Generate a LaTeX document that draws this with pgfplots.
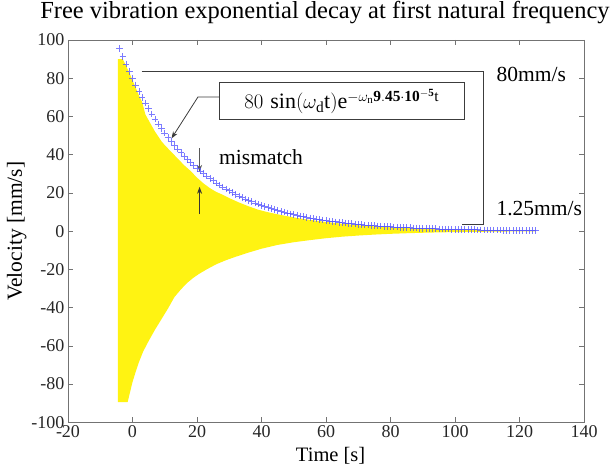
\documentclass[border=0pt]{standalone}
\usepackage{fontspec}
\setmainfont{Liberation Serif}
\usepackage{pgfplots}
\pgfplotsset{compat=1.18}
\usetikzlibrary{arrows.meta}
\definecolor{markblue}{RGB}{80,80,255}
\definecolor{anngray}{RGB}{60,60,60}

\begin{document}
\begin{tikzpicture}
\path[use as bounding box] (0,0) rectangle (614pt,470pt);
\begin{axis}[
  at={(68pt,47.7pt)}, anchor=south west,
  scale only axis, width=516pt, height=382.3pt,
  xmin=-20, xmax=140, ymin=-100, ymax=100,
  xtick={-20,0,20,40,60,80,100,120,140},
  xticklabels={-20,0,20,40,60,80,100,120,140},
  ytick={-100,-80,-60,-40,-20,0,20,40,60,80,100},
  yticklabels={-100,-80,-60,-40,-20,0,20,40,60,80,100},
  tick align=inside, major tick length=5pt,
  axis line style={draw=black!55, line width=0.8pt},
  every tick/.style={black!55, line width=0.6pt},
  tick label style={font=\rmfamily\fontsize{18}{21}\selectfont, text=black!85},
  title={Free vibration exponential decay at first natural frequency},
  title style={at={(0.498,1.055)}, anchor=center, font=\fontsize{24.5}{28}\selectfont},
  xlabel={Time [s]},
  xlabel style={at={(0.509,-0.088)}, anchor=center, font=\fontsize{20.5}{24}\selectfont},
  ylabel={Velocity [mm/s]},
  ylabel style={at={(-0.0994,0.5)}, anchor=center, font=\fontsize{21.5}{24}\selectfont},
  clip=false,
]
% yellow decaying oscillation (envelope-filled)
\addplot[fill=yellow!93!white, draw=none] coordinates {
(-4.5,90) (-3,90) (-2,86.5) (-1,83) (0,79) (1,75) (2,71) (3,67.5) (4,61) (5,58) (6,55) (7,52) (8,49.5) (9,47) (10,45) (12,41.5) (14,38) (16,34.5) (18,31.5) (20,28) (22,25) (24,22.5) (26,20.5) (28,19) (30,17.3) (33,15) (36,13) (39,11.2) (42,9.9) (45,8.8) (48,7.8) (51,6.9) (55,5.9) (60,4.8) (65,3.9) (70,3.1) (75,2.5) (80,2.0) (85,1.6) (90,1.2) (95,0.95) (100,0.75) (105,0.55) (110,0.4) (115,0.3) (120,0.2) (125,0.1)
(125,-0.1) (120,-0.15) (115,-0.2) (110,-0.3) (105,-0.4) (100,-0.5) (95,-0.65) (90,-0.85) (85,-1.1) (80,-1.4) (75,-1.8) (70,-2.3) (65,-2.9) (60,-3.7) (55,-4.7) (50,-5.8) (45,-7.2) (40,-9.2) (36,-11.2) (32,-13.4) (29,-15.2) (26,-17.3) (23,-20) (20.5,-22.5) (18.8,-24.5) (17,-27) (15,-30.5) (13,-34.5) (11,-40.5) (9,-46) (7,-51.5) (5,-57.5) (3.3,-63) (2,-68.5) (1,-73.5) (0,-79) (-0.8,-84.5) (-1.5,-89.4) (-4.5,-89.4)
} -- cycle;
% blue envelope markers
\addplot[only marks, mark=+, mark size=3.3pt, color=markblue, opacity=0.75, mark options={line width=0.7pt}] table {
t v
-4 95.57
-3 91.41
-2 87.44
-1 83.64
0 80.00
1 76.52
2 73.20
3 70.01
4 66.97
5 64.06
6 61.28
7 58.61
8 56.07
9 53.63
10 51.30
11 49.07
12 46.94
13 44.90
14 42.94
15 41.08
16 39.29
17 37.58
18 35.95
19 34.39
20 32.89
21 31.46
22 30.10
23 28.79
24 27.54
25 26.34
26 25.20
27 24.10
28 23.05
29 22.05
30 21.09
31 20.17
32 19.30
33 18.46
34 17.66
35 16.89
36 16.15
37 15.45
38 14.78
39 14.14
40 13.52
41 12.94
42 12.37
43 11.84
44 11.32
45 10.83
46 10.36
47 9.91
48 9.48
49 9.07
50 8.67
51 8.30
52 7.94
53 7.59
54 7.26
55 6.95
56 6.64
57 6.36
58 6.08
59 5.81
60 5.56
61 5.32
62 5.09
63 4.87
64 4.66
65 4.45
66 4.26
67 4.08
68 3.90
69 3.73
70 3.57
71 3.41
72 3.26
73 3.12
74 2.99
75 2.86
76 2.73
77 2.61
78 2.50
79 2.39
80 2.29
81 2.19
82 2.09
83 2.00
84 1.92
85 1.83
86 1.75
87 1.68
88 1.60
89 1.53
90 1.47
91 1.40
92 1.34
93 1.28
94 1.23
95 1.18
96 1.12
97 1.08
98 1.03
99 0.98
100 0.94
101 0.90
102 0.86
103 0.82
104 0.79
105 0.75
106 0.72
107 0.69
108 0.66
109 0.63
110 0.60
111 0.58
112 0.55
113 0.53
114 0.51
115 0.48
116 0.46
117 0.44
118 0.42
119 0.40
120 0.39
121 0.37
122 0.35
123 0.34
124 0.32
125 0.31
};
% annotations
\draw[anngray, line width=0.8pt] (axis cs:2.85,83.4) -- (axis cs:108.7,83.4) -- (axis cs:108.7,3.5) -- (axis cs:102.3,3.5);
\draw[anngray, line width=0.8pt, fill=white] (axis cs:26.8,58.5) rectangle (axis cs:103,77.9);
\node[anchor=center, font=\fontsize{22}{25}\selectfont] at (axis cs:64.9,67.8)
  {$80\,\sin(\omega_{\mathrm{d}}\mathrm{t})\mathrm{e}^{-\omega_{\mathrm{n}}\mathbf{9.45\cdot10^{-5}}\mathrm{t}}$};
\draw[anngray, line width=0.8pt, -{Stealth[length=7pt,width=5pt]}] (axis cs:26.8,70.2) -- (axis cs:20.3,70.2) -- (axis cs:12.1,48.5);
\node[anchor=west, font=\fontsize{21.5}{24}\selectfont] at (axis cs:25.8,38.9) {mismatch};
\draw[black!65, line width=0.9pt, -{Stealth[length=7pt,width=5pt]}] (axis cs:20.8,43.3) -- (axis cs:20.8,31);
\draw[black!80!yellow!50!black, line width=0.9pt, -{Stealth[length=7pt,width=5pt]}] (axis cs:20.8,8.9) -- (axis cs:20.8,23.2);
\node[anchor=west, font=\fontsize{21.5}{24}\selectfont] at (axis cs:111.8,82.2) {80mm/s};
\node[anchor=west, font=\fontsize{21.5}{24}\selectfont] at (axis cs:111.8,11.9) {1.25mm/s};
\end{axis}
\end{tikzpicture}
\end{document}
